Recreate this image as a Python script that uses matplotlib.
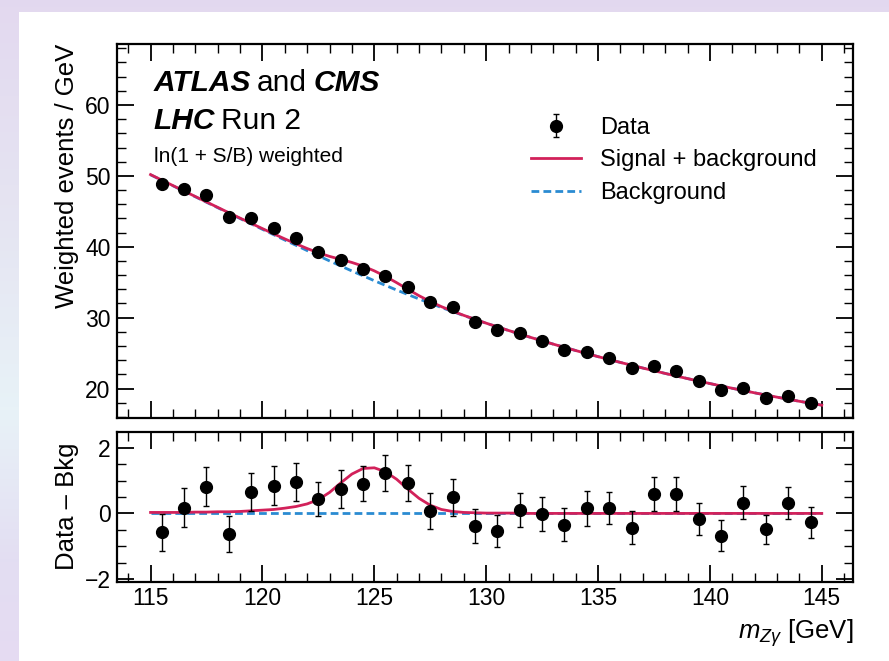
import numpy as np
import matplotlib
matplotlib.use("Agg")
import matplotlib.pyplot as plt
from matplotlib.ticker import MultipleLocator
from matplotlib.patches import Rectangle

plt.rcParams['font.family'] = ['Liberation Sans', 'DejaVu Sans']
plt.rcParams['mathtext.fontset'] = 'custom'
plt.rcParams['mathtext.rm'] = 'Liberation Sans'
plt.rcParams['mathtext.it'] = 'Liberation Sans:italic'

# bin centres and weighted data
mass = np.arange(115.5, 145.0, 1.0)
data = [48.83, 48.08, 47.28, 44.20, 44.00, 42.67, 41.17, 39.20, 38.15, 36.84,
        35.85, 34.30, 32.20, 31.50, 29.40, 28.24, 27.86, 26.70, 25.50, 25.10,
        24.25, 22.90, 23.16, 22.45, 21.05, 19.80, 20.10, 18.70, 18.93, 17.90]
data_err = [0.57, 0.60, 0.59, 0.56, 0.58, 0.59, 0.58, 0.53, 0.57, 0.54,
            0.55, 0.55, 0.55, 0.56, 0.51, 0.49, 0.51, 0.52, 0.50, 0.53,
            0.49, 0.49, 0.51, 0.52, 0.50, 0.47, 0.50, 0.44, 0.49, 0.47]
resid = [-0.58, 0.18, 0.81, -0.63, 0.66, 0.84, 0.96, 0.44, 0.74, 0.91,
         1.22, 0.93, 0.08, 0.49, -0.39, -0.53, 0.10, -0.03, -0.34, 0.15,
         0.17, -0.43, 0.59, 0.58, -0.17, -0.68, 0.33, -0.49, 0.32, -0.27]

# background fit, read at every GeV
bkg_mass = np.arange(115.0, 145.5, 1.0)
bkg = [50.15, 48.60, 47.05, 45.51, 43.98, 42.46, 40.95, 39.46, 38.00, 36.58,
       35.21, 33.89, 32.63, 31.43, 30.29, 29.21, 28.18, 27.20, 26.26, 25.36,
       24.50, 23.68, 22.89, 22.13, 21.40, 20.70, 20.03, 19.39, 18.78, 18.20,
       17.65]

# signal component, read every 0.5 GeV
sig_mass = np.arange(115.0, 145.25, 0.5)
sig = [0.03, 0.03, 0.03, 0.03, 0.04, 0.04, 0.05, 0.05, 0.06, 0.08,
       0.10, 0.12, 0.16, 0.21, 0.29, 0.42, 0.64, 0.93, 1.20, 1.37,
       1.39, 1.27, 1.04, 0.74, 0.46, 0.25, 0.12, 0.06, 0.03, 0.02,
       0.01, 0.01, 0.01, 0.01, 0.0, 0.0, 0.0, 0.0, 0.0, 0.0,
       0.0, 0.0, 0.0, 0.0, 0.0, 0.0, 0.0, 0.0, 0.0, 0.0,
       0.0, 0.0, 0.0, 0.0, 0.0, 0.0, 0.0, 0.0, 0.0, 0.0, 0.0]

red = '#d2215a'
blue = '#2a8bd2'

fig = plt.figure(figsize=(8.89, 6.61), dpi=100)

# screenshot-like backdrop
bg = fig.add_axes([0, 0, 1, 1], zorder=-10)
bg.axis('off')
pos = [0.0, 0.35, 0.62, 0.85, 1.0]
cols = np.array([[0.89, 0.85, 0.94], [0.90, 0.90, 0.95], [0.91, 0.95, 0.97],
                 [0.89, 0.87, 0.95], [0.90, 0.86, 0.95]])
yy = np.linspace(0, 1, 200)
grad = np.stack([np.interp(yy, pos, cols[:, k]) for k in range(3)], axis=-1)
bg.imshow(grad[:, None, :], extent=[0, 1, 0, 1], aspect='auto', origin='upper')
bg.add_patch(Rectangle((19 / 889, 0), 1, 1 - 12 / 661, facecolor='white',
                       edgecolor='none', transform=bg.transAxes))
bg.set_xlim(0, 1)
bg.set_ylim(0, 1)

ax = fig.add_axes([0.1316, 0.3672, 0.828, 0.5662])
ax2 = fig.add_axes([0.1316, 0.1200, 0.828, 0.2269])

sb = np.interp(sig_mass, bkg_mass, bkg) + np.array(sig)

ax.plot(bkg_mass, bkg, color=blue, ls='--', lw=2.0, dashes=(2.8, 1.5),
        label='Background', zorder=2)
ax.plot(sig_mass, sb, color=red, lw=2.0, label='Signal + background', zorder=3)
ax.errorbar(mass, data, yerr=data_err, fmt='o', color='black', ms=8.5,
            elinewidth=1, capsize=2.5, capthick=1, label='Data', zorder=4)

ax2.plot(bkg_mass, np.zeros(len(bkg_mass)), color=blue, ls='--', lw=2.0,
         dashes=(2.8, 1.5), zorder=2)
ax2.plot(sig_mass, sig, color=red, lw=2.0, zorder=3)
ax2.errorbar(mass, resid, yerr=data_err, fmt='o', color='black', ms=8.5,
             elinewidth=1, capsize=2.5, capthick=1, zorder=4)

for a in (ax, ax2):
    a.set_xlim(113.5, 146.4)
    a.xaxis.set_major_locator(MultipleLocator(5))
    a.xaxis.set_minor_locator(MultipleLocator(1))
    a.tick_params(which='both', direction='in', top=True, right=True,
                  labelsize=16.5)
    a.tick_params(which='major', length=12.5, width=1.3)
    a.tick_params(which='minor', length=6.5, width=1.0)
    a.tick_params(axis='x', pad=4)
    a.tick_params(axis='y', pad=4.5)
    for s in a.spines.values():
        s.set_linewidth(1.6)

ax.set_ylim(15.8, 68.6)
ax.yaxis.set_major_locator(MultipleLocator(10))
ax.yaxis.set_minor_locator(MultipleLocator(2))
ax.tick_params(axis='x', labelbottom=False)

ax2.set_ylim(-2.08, 2.49)
ax2.yaxis.set_major_locator(MultipleLocator(2))
ax2.yaxis.set_minor_locator(MultipleLocator(0.5))

ax.set_ylabel('Weighted events / GeV', fontsize=18.5, loc='top')
ax.yaxis.set_label_coords(-0.052, 1.0)
ax2.set_ylabel('Data – Bkg', fontsize=18.5)
ax2.yaxis.set_label_coords(-0.052, 0.5)
ax2.set_xlabel(r'$m_{Z\gamma}$ [GeV]', fontsize=18.5, loc='right')
ax2.xaxis.set_label_coords(1.0, -0.235)

# experiment labels
big = 21.5
t1 = ax.text(115.15, 62.0, 'ATLAS', fontsize=big, fontweight='bold',
             fontstyle='italic', va='baseline')
t2 = ax.annotate('and', xy=(1, 0), xycoords=t1, xytext=(4, 0),
                 textcoords='offset points', fontsize=big, va='bottom')
ax.annotate('CMS', xy=(1, 0), xycoords=t2, xytext=(5, 0),
            textcoords='offset points', fontsize=big, fontweight='bold',
            fontstyle='italic', va='bottom')
t3 = ax.text(115.15, 56.65, 'LHC', fontsize=big, fontweight='bold',
             fontstyle='italic', va='baseline')
ax.annotate('Run 2', xy=(1, 0), xycoords=t3, xytext=(4, 0),
            textcoords='offset points', fontsize=big, va='bottom')
ax.text(115.15, 52.0, 'ln(1 + S/B) weighted', fontsize=15, va='baseline')

handles, labels = ax.get_legend_handles_labels()
order = [labels.index('Data'), labels.index('Signal + background'),
         labels.index('Background')]
ax.legend([handles[i] for i in order], [labels[i] for i in order],
          loc='upper left', bbox_to_anchor=(0.547, 0.837), frameon=False,
          fontsize=17, borderpad=0, handlelength=2.1, handletextpad=0.8,
          labelspacing=0.45)

fig.savefig('out.png', dpi=100)
